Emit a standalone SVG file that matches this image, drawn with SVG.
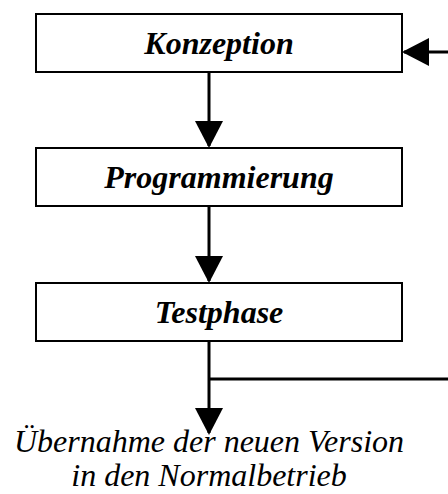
<svg xmlns="http://www.w3.org/2000/svg" width="448" height="494" viewBox="0 0 448 494">
<style>
.box{fill:#fff;stroke:#000;stroke-width:2}
.lbl{font-family:"Liberation Serif","Times New Roman",serif;font-size:32px;font-weight:bold;font-style:italic;text-anchor:middle;fill:#000}
.out{font-family:"Liberation Serif","Times New Roman",serif;font-size:32px;font-style:italic;text-anchor:middle;fill:#000}
.con{fill:none;stroke:#000;stroke-width:3}
</style>
<defs>
<marker id="ah" markerUnits="userSpaceOnUse" markerWidth="28" markerHeight="28" viewBox="0 0 27 28" refX="25" refY="14" orient="auto">
<path d="M0,0 L27,14 L0,28 Z" fill="#000"/>
</marker>
</defs>
<rect width="448" height="494" fill="#fff"/>
<g id="connectors">
<path class="con" d="M209,72 V146" marker-end="url(#ah)"/>
<path class="con" d="M209,207 V281" marker-end="url(#ah)"/>
<path class="con" d="M209,341 V433" marker-end="url(#ah)"/>
<path class="con" d="M209,379 H448"/>
<path class="con" d="M448,52 H404" marker-end="url(#ah)"/>
</g>
<g id="konzeption">
<rect class="box" x="36" y="14" width="366" height="58"/>
<text class="lbl" x="219" y="54">Konzeption</text>
</g>
<g id="programmierung">
<rect class="box" x="36" y="148" width="366" height="58"/>
<text class="lbl" x="219" y="188">Programmierung</text>
</g>
<g id="testphase">
<rect class="box" x="36" y="283" width="366" height="58"/>
<text class="lbl" x="219" y="323">Testphase</text>
</g>
<g id="uebernahme">
<text class="out" x="209" y="452">Übernahme der neuen Version</text>
<text class="out" x="209" y="486">in den Normalbetrieb</text>
</g>
</svg>
